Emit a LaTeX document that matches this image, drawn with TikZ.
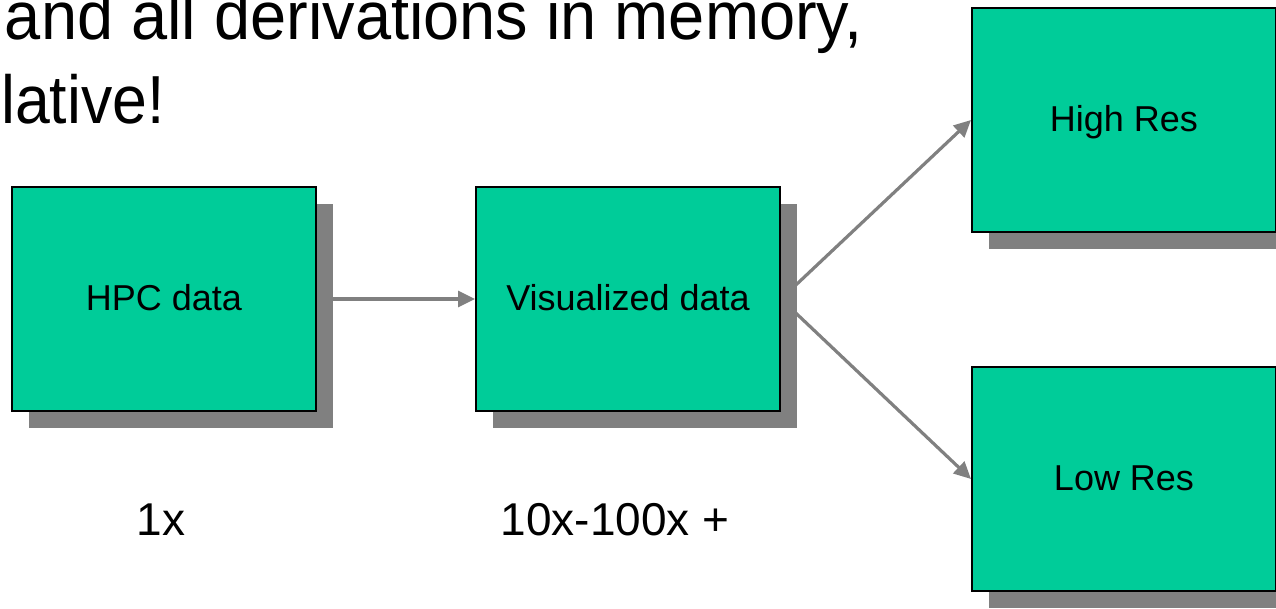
\documentclass[tikz,border=0pt]{standalone}
\usepackage{fontspec}
\setmainfont{Liberation Sans}
\usetikzlibrary{arrows.meta,shadows,backgrounds}
\definecolor{boxgreen}{RGB}{0,204,153}
\definecolor{shadowgray}{RGB}{128,128,128}
\definecolor{arrowgray}{RGB}{128,128,128}
\begin{document}
\begin{tikzpicture}[x=1pt,y=-1pt,
  box/.style={draw=black,line width=2pt,fill=boxgreen,
    minimum width=304pt,minimum height=224pt,inner sep=0pt,
    text height=26pt,text depth=3pt,
    font=\fontsize{36}{40}\selectfont,
    drop shadow={shadow xshift=17pt,shadow yshift=-17pt,fill=shadowgray,opacity=1}},
  conn/.style={draw=arrowgray,line width=3.2pt,-{Triangle[length=17pt,width=16pt]}},
  big/.style={inner sep=0pt,font=\fontsize{68}{80}\selectfont},
  factor/.style={inner sep=0pt,anchor=base,font=\fontsize{46}{50}\selectfont}]
\useasboundingbox (0,0) rectangle (1276,608);
\clip (0,0) rectangle (1276,608);

\node[big,anchor=base east] (t1) at (863,39) {\scalebox{0.955}[1]{and all derivations in memory,}};
\node[big,anchor=base west] (t2) at (1,123) {\scalebox{0.92}[1]{lative!}};

\node[box] (hpc) at (164,299) {HPC data};
\node[box] (vis) at (628,299) {Visualized data};
\node[box] (high) at (1124,120) {High Res};
\node[box] (low) at (1124,479) {Low Res};

\node[factor] (f1) at (161,535) {1x};
\node[factor] (f2) at (615,535) {10x-100x +};

\begin{scope}[on background layer]
  \draw[conn] (hpc.east) -- (vis.west);
  \draw[conn] (vis.east) -- (high.west);
  \draw[conn] (vis.east) -- (low.west);
\end{scope}
\end{tikzpicture}
\end{document}
